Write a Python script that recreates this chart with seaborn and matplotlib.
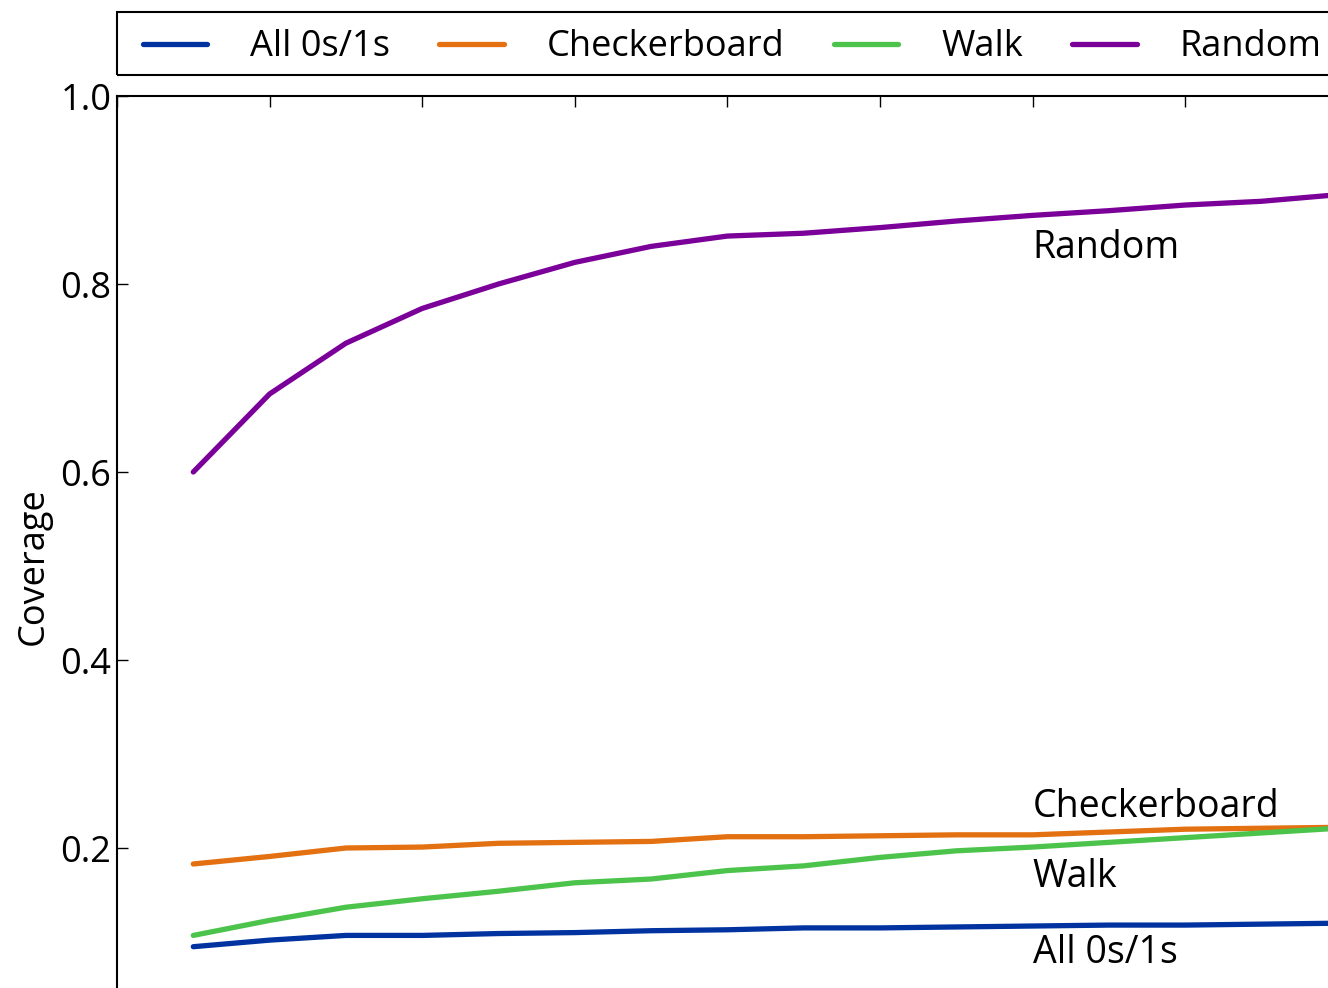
import pandas as pd
import matplotlib
matplotlib.use('Agg')
import matplotlib.pyplot as plt
from matplotlib.patches import Rectangle
import seaborn as sns

# valores (16 pontos visíveis + 1 fora da borda)
passos = list(range(1, 18))
all01 = [0.095, 0.102, 0.107, 0.107, 0.109, 0.110, 0.112, 0.113, 0.115, 0.115,
         0.116, 0.117, 0.118, 0.118, 0.119, 0.120, 0.121]
checker = [0.183, 0.191, 0.200, 0.201, 0.205, 0.206, 0.207, 0.212, 0.212, 0.213,
           0.214, 0.214, 0.217, 0.220, 0.221, 0.222, 0.223]
walk = [0.107, 0.123, 0.137, 0.146, 0.154, 0.163, 0.167, 0.176, 0.181, 0.190,
        0.197, 0.201, 0.206, 0.211, 0.216, 0.221, 0.226]
aleat = [0.600, 0.683, 0.737, 0.774, 0.800, 0.823, 0.840, 0.851, 0.854, 0.860,
         0.867, 0.873, 0.878, 0.884, 0.888, 0.895, 0.899]

nomes = ['All 0s/1s', 'Checkerboard', 'Walk', 'Random']
cores = ['#0033a0', '#e37011', '#4cc44c', '#7b0099']

df = pd.concat([
    pd.DataFrame({'passo': passos, 'cobertura': vals, 'metodo': nome})
    for nome, vals in zip(nomes, [all01, checker, walk, aleat])
])

sns.set_style('ticks')
plt.rcParams['font.family'] = ['Open Sans', 'DejaVu Sans']
plt.rcParams['text.color'] = 'black'
plt.rcParams['axes.labelcolor'] = 'black'
plt.rcParams['xtick.color'] = 'black'
plt.rcParams['ytick.color'] = 'black'
plt.rcParams['axes.edgecolor'] = 'black'

W, H = 1328, 988
fig = plt.figure(figsize=(W / 100, H / 100), dpi=100)
# eixo maior que a figura: a referência está cortada à direita e embaixo
ax = fig.add_axes([117 / W, -48 / H, 18 * 76.3 / W, 940 / H])

sns.lineplot(data=df, x='passo', y='cobertura', hue='metodo', hue_order=nomes,
             palette=dict(zip(nomes, cores)), linewidth=3.8, ax=ax, legend=True)

ax.set_xlim(0, 18)
ax.set_ylim(0, 1)
ax.set_xticks(range(0, 19, 2))
ax.set_yticks([0.2, 0.4, 0.6, 0.8, 1.0])
ax.set_yticklabels(['0.2', '0.4', '0.6', '0.8', '1.0'])
ax.xaxis.tick_top()
ax.tick_params(axis='x', direction='in', length=8, width=1, labeltop=False, labelbottom=False)
ax.tick_params(axis='y', direction='in', length=8, width=1, labelsize=26, pad=4)
ax.set_xlabel('')
ax.set_ylabel('Coverage', fontsize=26, labelpad=6)
for s in ax.spines.values():
    s.set_linewidth(1.5)

# rótulos junto às linhas
rotulos = {'Random': 0.828, 'Checkerboard': 0.233, 'Walk': 0.1585, 'All 0s/1s': 0.0777}
for txt, yv in rotulos.items():
    ax.text(12, yv, txt, fontsize=27, va='baseline', ha='left')

# legenda em cima, com moldura desenhada à parte
ax.legend_.remove()
h, l = ax.get_legend_handles_labels()
leg = fig.legend(h, l, ncol=4, loc='lower left', bbox_to_anchor=(130 / W, 1 - 78 / H),
                 fontsize=26, frameon=False, handlelength=1.78,
                 handletextpad=1.2, columnspacing=1.36, borderaxespad=0, borderpad=0.35)
for ln in leg.get_lines():
    ln.set_linewidth(3.8)
fig.patches.append(Rectangle((117 / W, 1 - 75 / H), 1.2, 63 / H, transform=fig.transFigure,
                             fill=False, edgecolor='black', linewidth=1.5, zorder=0))

fig.savefig('out.png', dpi=100)
